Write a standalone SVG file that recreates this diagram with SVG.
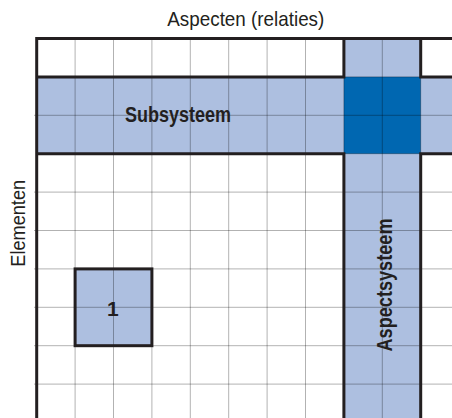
<svg xmlns="http://www.w3.org/2000/svg" width="452" height="418" viewBox="0 0 452 418">
<style>
.light{fill:#adbfe0}
.dark{fill:#0067b1}
.grid{stroke:#000;stroke-opacity:0.3;stroke-width:1;fill:none}
.thick{stroke:#231f20;stroke-width:3;fill:none;stroke-linejoin:miter}
.lbl{font-family:"Liberation Sans",Arial,sans-serif;fill:#231f20}
.b{font-weight:bold}
</style>
<rect width="452" height="418" fill="#fff"/>
<g id="subsysteem">
<rect class="light" x="36.7" y="76.9" width="415.3" height="76.8"/>
</g>
<g id="aspectsysteem">
<rect class="light" x="343.9" y="38.5" width="76.8" height="379.5"/>
<rect class="dark" x="343.9" y="76.9" width="76.8" height="76.8"/>
</g>
<g id="element-1">
<rect class="light" x="75.1" y="268.9" width="76.8" height="76.8"/>
</g>
<g id="grid">
<path class="grid" d="M75.1,38.5V418M113.5,38.5V418M151.9,38.5V418M190.3,38.5V418M228.7,38.5V418M267.1,38.5V418M305.5,38.5V418M382.3,38.5V418M343.9,76.9V153.7M420.7,76.9V153.7
M34,115.3H452M34,192.1H452M34,230.5H452M34,268.9H452M34,307.3H452M34,345.7H452M34,384.1H452M343.9,76.9H420.7M343.9,153.7H420.7"/>
</g>
<g id="borders">
<path class="thick" d="M36.7,418V38.5H452"/>
<path class="thick" d="M36.7,76.9H343.9V38.5"/>
<path class="thick" d="M452,76.9H420.7V38.5"/>
<path class="thick" d="M36.7,153.7H343.9V418"/>
<path class="thick" d="M452,153.7H420.7V418"/>
<rect class="thick" x="75.1" y="268.9" width="76.8" height="76.8"/>
</g>
<g id="labels">
<text class="lbl" x="245.8" y="26" font-size="21" text-anchor="middle" textLength="157" lengthAdjust="spacingAndGlyphs">Aspecten (relaties)</text>
<text class="lbl" font-size="21" text-anchor="middle" textLength="86.7" lengthAdjust="spacingAndGlyphs" transform="translate(25,223.3) rotate(-90)">Elementen</text>
<text class="lbl b" x="178" y="121.7" font-size="22.5" text-anchor="middle" textLength="106" lengthAdjust="spacingAndGlyphs">Subsysteem</text>
<text class="lbl b" font-size="22.5" text-anchor="middle" textLength="133" lengthAdjust="spacingAndGlyphs" transform="translate(391.5,285) rotate(-90)">Aspectsysteem</text>
<text class="lbl b" x="112.8" y="315.7" font-size="21" text-anchor="middle">1</text>
</g>
</svg>
